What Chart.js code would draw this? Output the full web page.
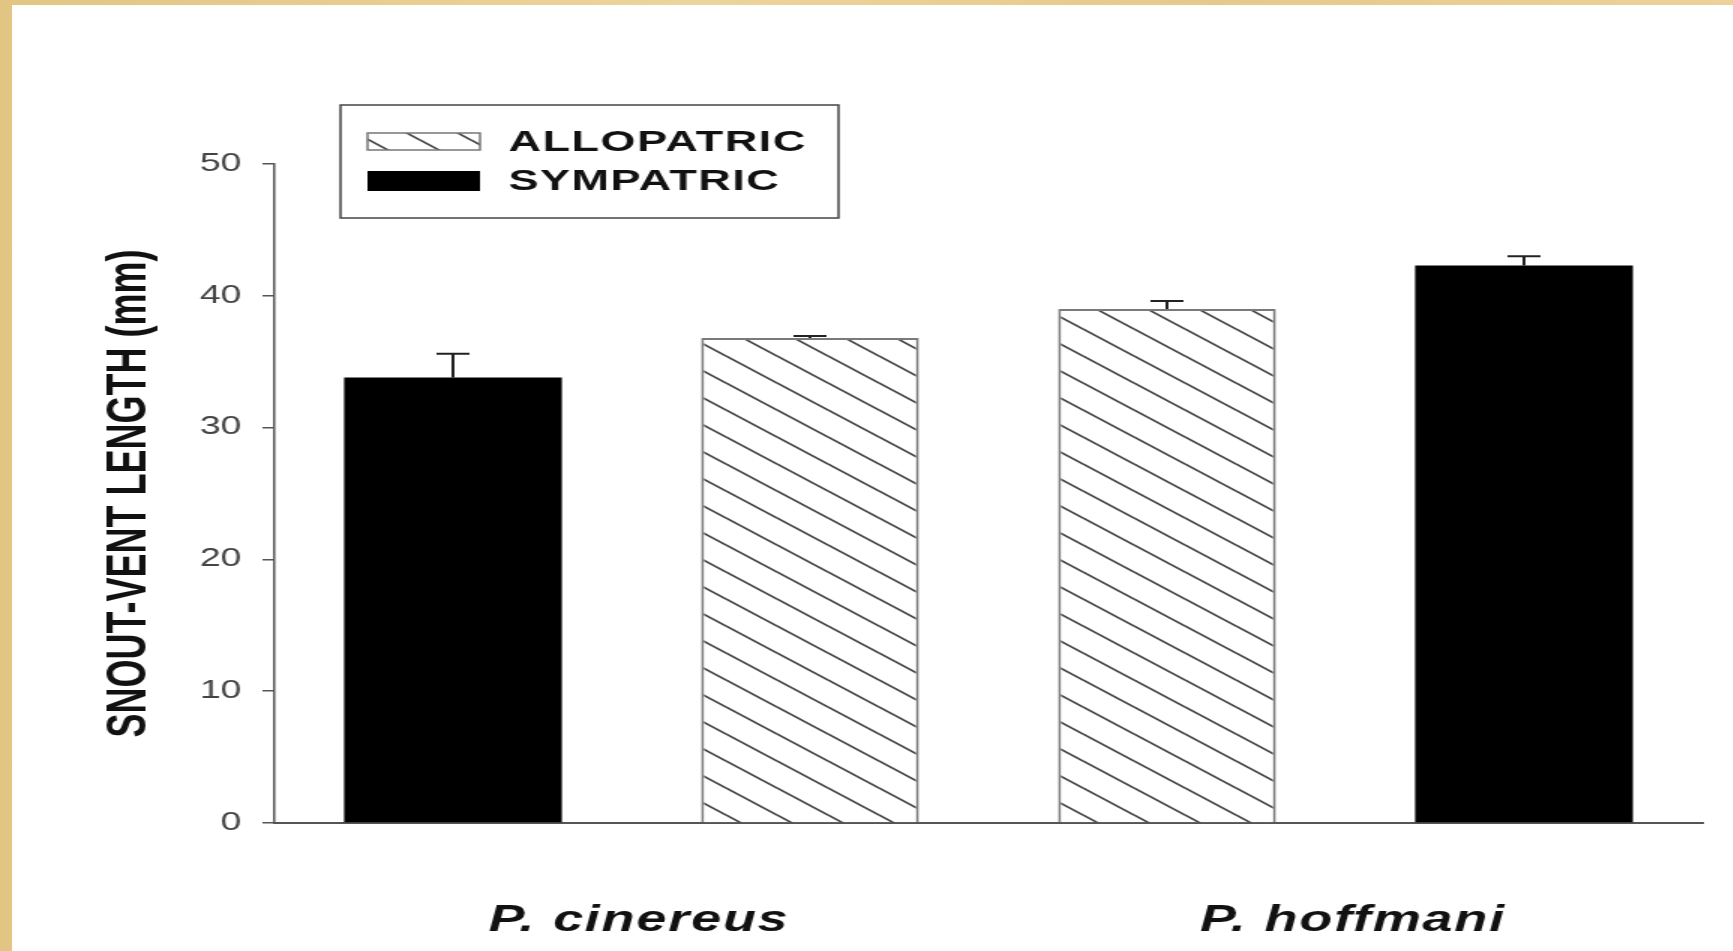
<!DOCTYPE html>
<html>
<head>
<meta charset="utf-8">
<script src="https://cdn.jsdelivr.net/npm/chart.js@4.4.0/dist/chart.umd.min.js"></script>
<style>
  html, body { margin: 0; padding: 0; }
  body {
    width: 1733px; height: 951px; overflow: hidden;
    background: linear-gradient(90deg, #e3c583, #edd49c 40%, #e6c98a 70%, #ecd29a);
  }
  #paper { position: absolute; left: 12px; top: 5px; width: 1721px; height: 946px; background: #fff; overflow: hidden; }
  /* the source figure is stretched sideways, so is this canvas */
  #canvas { position: absolute; left: 0; top: 0; transform: scaleX(1.5); transform-origin: 0 0; }
</style>
</head>
<body>
<div id="paper"><canvas id="canvas" width="1148" height="946"></canvas></div>
<script>
const species = ['P. cinereus', 'P. hoffmani'];
const allopatric = [36.8, 39.0];
const allopatricErr = [0.15, 0.6];
const sympatric = [33.8, 42.3];
const sympatricErr = [1.8, 0.7];
const yTicks = [0, 10, 20, 30, 40, 50];

function hatch() {
    const t = document.createElement('canvas');
    t.width = 34; t.height = 27;
    const g = t.getContext('2d');
    g.fillStyle = '#fff';
    g.fillRect(0, 0, 34, 27);
    g.strokeStyle = '#444';
    g.lineWidth = 1.7;
    for (const dx of [-34, 0, 34]) {
        for (const dy of [-27, 0, 27]) {
            g.beginPath();
            g.moveTo(dx, dy);
            g.lineTo(dx + 34, dy + 27);
            g.stroke();
        }
    }
    return g.createPattern(t, 'repeat');
}
const stripes = hatch();

// error bars, only the upper half like the original
const errorBars = {
    id: 'errorBars',
    afterDatasetsDraw(chart) {
        const ctx = chart.ctx, y = chart.scales.y;
        ctx.save();
        ctx.strokeStyle = '#222';
        ctx.lineWidth = 2;
        chart.data.datasets.forEach((ds, i) => {
            const meta = chart.getDatasetMeta(i);
            meta.data.forEach((bar, j) => {
                if (ds.data[j] == null) return;
                const top = y.getPixelForValue(ds.data[j] + ds.errors[j]);
                ctx.beginPath();
                ctx.moveTo(bar.x, bar.y);
                ctx.lineTo(bar.x, top);
                ctx.moveTo(bar.x - 11, top);
                ctx.lineTo(bar.x + 11, top);
                ctx.stroke();
            });
        });
        ctx.restore();
        // x labels (ticks z:1) are drawn after this, a bit spaced out
        ctx.letterSpacing = '1.2px';
    }
};

const boxLegend = {
    id: 'boxLegend',
    afterDraw(chart) {
        const ctx = chart.ctx;
        ctx.letterSpacing = '0px';
        ctx.save();
        ctx.strokeStyle = '#444';
        ctx.lineWidth = 1.5;
        ctx.strokeRect(219, 100, 332, 113);
        ctx.fillStyle = stripes;
        ctx.fillRect(237, 128, 75, 17);
        ctx.strokeStyle = '#777';
        ctx.strokeRect(237, 128, 75, 17);
        ctx.fillStyle = '#000';
        ctx.fillRect(237, 166, 75, 20);
        ctx.fillStyle = '#111';
        ctx.font = 'bold 30px "Liberation Sans", Arial, sans-serif';
        ctx.letterSpacing = '1px';
        ctx.textBaseline = 'middle';
        ctx.fillText('ALLOPATRIC', 331, 138);
        ctx.fillText('SYMPATRIC', 331, 177);
        ctx.restore();
        ctx.letterSpacing = '0px';
    }
};

const ctx = document.getElementById('canvas').getContext('2d');
const myChart = new Chart(ctx, {
    type: 'bar',
    data: {
        labels: species,
        datasets: [{
            label: 'SYMPATRIC',
            data: [sympatric[0], null],
            errors: [sympatricErr[0], null],
            backgroundColor: '#000',
            borderWidth: 0
        }, {
            label: 'ALLOPATRIC',
            data: allopatric,
            errors: allopatricErr,
            backgroundColor: stripes,
            borderColor: '#7a7a7a',
            borderWidth: 2
        }, {
            label: 'SYMPATRIC',
            data: [null, sympatric[1]],
            errors: [null, sympatricErr[1]],
            backgroundColor: '#000',
            borderWidth: 0
        }]
    },
    options: {
        responsive: false,
        animation: false,
        skipNull: true,
        categoryPercentage: 1.0,
        barPercentage: 0.61,
        layout: { padding: { left: 57, right: 21, top: 159, bottom: 0 } },
        plugins: {
            legend: { display: false },
            tooltip: { enabled: false }
        },
        scales: {
            x: {
                grid: { display: false, drawTicks: false },
                border: { display: true, color: '#555', width: 2 },
                ticks: {
                    z: 1,
                    color: '#111',
                    padding: 76,
                    labelOffset: 5,
                    font: { family: '"Liberation Sans", Arial, sans-serif', size: 36, style: 'italic', weight: 'bold' }
                },
                afterFit(s) { s.height = 128; }
            },
            y: {
                min: 0,
                max: 50,
                afterBuildTicks(s) { s.ticks = yTicks.map(v => ({ value: v })); },
                grid: { drawOnChartArea: false, tickLength: 8, color: '#555', lineWidth: 1.5 },
                border: { display: true, color: '#555', width: 1.5 },
                ticks: {
                    color: '#444',
                    padding: 14,
                    font: { family: '"Liberation Sans", Arial, sans-serif', size: 25 }
                },
                title: {
                    display: true,
                    text: 'SNOUT-VENT LENGTH (mm)',
                    color: '#111',
                    padding: { top: 0, bottom: 0 },
                    font: { family: '"Liberation Sans", Arial, sans-serif', size: 36, weight: 'bold' }
                },
                afterFit(s) { s.width = 118; }
            }
        }
    },
    plugins: [errorBars, boxLegend]
});
</script>
</body>
</html>
